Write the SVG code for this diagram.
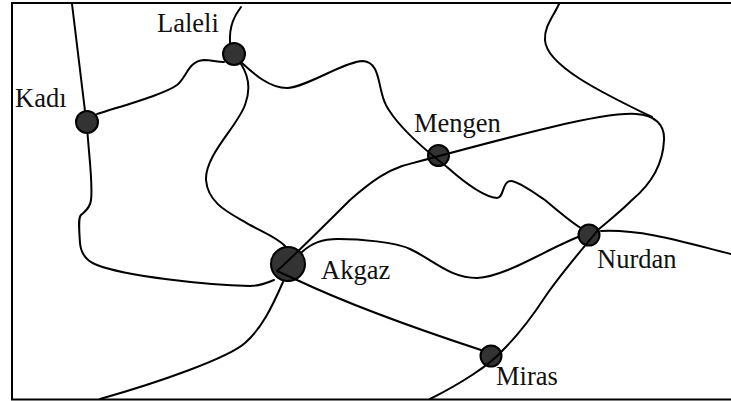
<svg xmlns="http://www.w3.org/2000/svg" width="731" height="401" viewBox="0 0 731 401">
<style>
.c{fill:none;stroke:#000;stroke-width:2;stroke-linecap:round;stroke-linejoin:round}
.n{fill:#333;stroke:#000;stroke-width:2}
text{font-family:"Liberation Serif","Times New Roman",serif;font-size:26.500px;fill:#111}
</style>
<rect width="731" height="401" fill="#fff"/>
<path d="M731 3H12V399.500H731" fill="none" stroke="#000" stroke-width="2"/>
<g id="node-kadi"><circle class="n" cx="87" cy="122" r="11"/><text x="15" y="107">Kadı</text></g>
<g id="node-laleli"><circle class="n" cx="234" cy="54" r="11"/><text x="157" y="32">Laleli</text></g>
<g id="node-mengen"><circle class="n" cx="438.500" cy="155.500" r="10.500"/><text x="414" y="132">Mengen</text></g>
<g id="node-akgaz"><circle class="n" cx="288" cy="264" r="17"/><text x="321" y="279">Akgaz</text></g>
<g id="node-nurdan"><circle class="n" cx="589" cy="235" r="10.500"/><text x="597" y="268">Nurdan</text></g>
<g id="node-miras"><circle class="n" cx="491" cy="356" r="10.500"/><text x="496" y="385">Miras</text></g>
<g id="connectors">
<path class="c" d="M72 4L85 111"/>
<path class="c" d="M87.500 133C89 155 93 185 91 200C90 209 84 212 81 215C78 218 79 228 80 243C81 254 86 261 97 265C125 276 205 285 250 286C260 286 267 283 274 280"/>
<path class="c" d="M241 7C235 15 229 25 230 43"/>
<path class="c" d="M97 114C125 105 165 94 177 85C187 77 188 61 204 60C212 60 216 62 224 62"/>
<path class="c" d="M242 63C255 75 270 88 287 88C305 88 345 61 363 61C377 62 378 78 381 90C384 103 387 108 393 116C405 132 425 150 447 167C465 183 485 197 497 198C504 198 502 181 511 181C518 181 533 192 545 200C558 211 572 223 581 228"/>
<path class="c" d="M241 64C250 78 250 92 245 105C237 127 205 155 206 180C208 205 232 214 250 225C265 233 278 238 285 246"/>
<path class="c" d="M297 280L277 271C300 250 330 220 350 200C375 178 388 171 402 166C450 153 505 138 552 127C590 118 620 113 636 114C655 115 665 125 664 140C663 165 650 185 632 200C620 212 606 223 598 230C590 240 562 272 545 297C530 320 515 338 503 350C490 365 460 384 430 399"/>
<path class="c" d="M559 4C553 17 544 27 545 40C546 65 600 92 652 117"/>
<path class="c" d="M601 231C645 229 690 244 731 254"/>
<path class="c" d="M302 252C312 243 322 239 338 239C360 239 395 242 410 249C435 261 450 278 477 278C505 277 545 250 578 237"/>
<path class="c" d="M297 280C350 305 420 330 481 350"/>
<path class="c" d="M283 282C272 307 262 328 245 343C228 358 160 382 100 399"/>
</g>
</svg>
